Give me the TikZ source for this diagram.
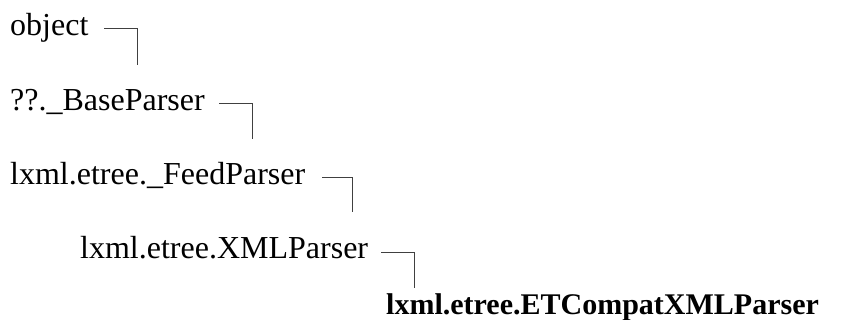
\documentclass[tikz,border=0pt]{standalone}
\usepackage{fontspec}
\setmainfont{Liberation Serif}
\begin{document}
\begin{tikzpicture}[x=1pt,y=-1pt,
  lbl/.style={anchor=base west,inner sep=0pt,font=\fontsize{32}{32}\selectfont},
  blbl/.style={anchor=base west,inner sep=0pt,font=\fontsize{30}{30}\selectfont\bfseries},
  link/.style={draw=black!75,line width=1pt}]
\useasboundingbox (0,0) rectangle (863,320);
\node[lbl] (n1) at (10,36) {object};
\node[lbl] (n2) at (10,111) {??.\_BaseParser};
\node[lbl] (n3) at (10,185) {lxml.etree.\_FeedParser};
\node[lbl] (n4) at (80,259) {lxml.etree.XMLParser};
\node[blbl] (n5) at (386,315) {lxml.etree.ETCompatXMLParser};
\coordinate (c1) at (104,29); \coordinate (c1e) at (137,65);
\coordinate (c2) at (219,104); \coordinate (c2e) at (252,139);
\coordinate (c3) at (322,178); \coordinate (c3e) at (352,212);
\coordinate (c4) at (381,253); \coordinate (c4e) at (414,288);
\draw[link] (c1) -| (c1e);
\draw[link] (c2) -| (c2e);
\draw[link] (c3) -| (c3e);
\draw[link] (c4) -| (c4e);
\end{tikzpicture}
\end{document}
